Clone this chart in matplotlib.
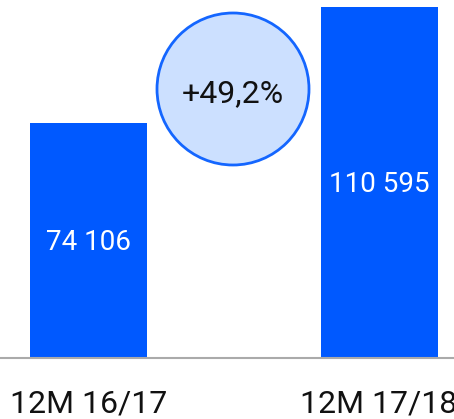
import matplotlib
matplotlib.use("Agg")
import matplotlib.pyplot as plt
from matplotlib.patches import Ellipse

plt.rcParams['font.family'] = ['Roboto', 'DejaVu Sans']

# data
periods = ["12M 16/17", "12M 17/18"]
values = [74106, 110595]
value_labels = ["74 106", "110 595"]
growth_label = "+49,2%"

W, H = 454, 419
fig = plt.figure(figsize=(W / 100, H / 100), dpi=100)
ax = fig.add_axes([0, 61 / H, 1, 358 / H])

x = [0, 1]
ax.bar(x, values, width=0.403, color="#0059ff", zorder=2)
ax.set_xlim(-0.305, 1.258)
ax.set_ylim(0, 112800)

# value labels inside the bars (baseline shifted so digits sit centred)
for xi, v, lab in zip(x, values, value_labels):
    ax.annotate(lab, (xi, v * 0.5), xytext=(0, -7.2),
                textcoords="offset points", ha="center", va="baseline",
                color="white", fontsize=20)

ax.set_xticks(x)
ax.set_xticklabels(periods, fontsize=23, color="#111111")
ax.tick_params(axis="x", length=0, pad=23)
ax.set_yticks([])
for s in ["top", "left", "right"]:
    ax.spines[s].set_visible(False)
ax.spines["bottom"].set_color("#aaaaaa")
ax.spines["bottom"].set_linewidth(1.5)

# growth bubble
cx, cy, r = 233 / W, 1 - 89 / H, 76
circ = Ellipse((cx, cy), 2 * r / W, 2 * r / H, transform=fig.transFigure,
               facecolor="#cce0ff", edgecolor="#1466ff", linewidth=2,
               zorder=5)
fig.patches.append(circ)
fig.text(cx, 1 - 102 / H, growth_label, ha="center", va="baseline",
         fontsize=23, color="#111111", zorder=6)

fig.savefig("out.png", dpi=100)
